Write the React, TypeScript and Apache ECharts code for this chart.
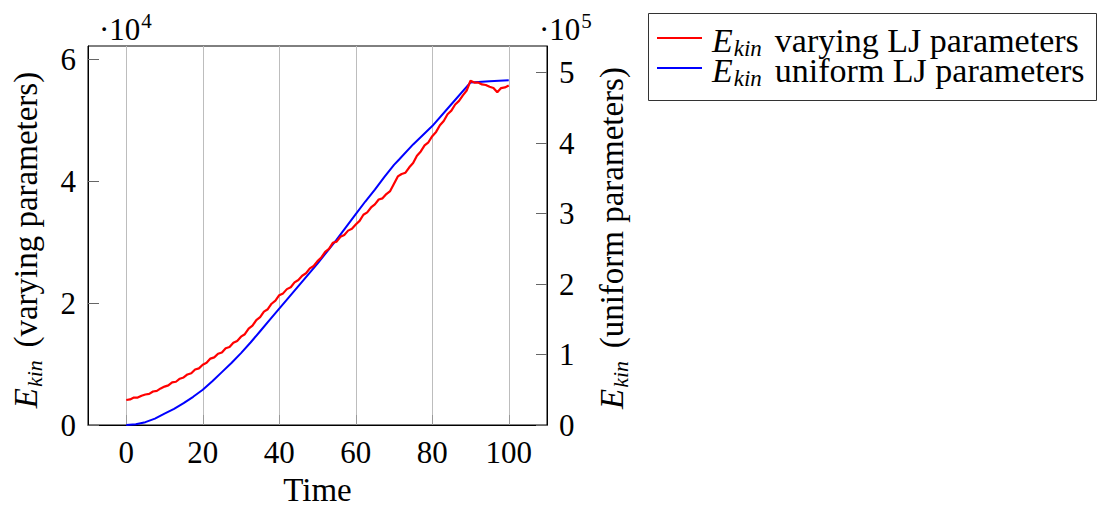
import React, { useEffect, useRef } from "react";
import * as echarts from "echarts";

// time axis (simulation time, 0..100)
const timeRed: number[] = Array.from({ length: 101 }, (_, i) => i);
// E_kin, varying LJ parameters (units of 1e4)
const redE4: number[] = [
  0.41, 0.42, 0.45, 0.45, 0.48, 0.5, 0.51, 0.55, 0.56, 0.6,
  0.63, 0.65, 0.7, 0.71, 0.76, 0.78, 0.83, 0.85, 0.91, 0.93,
  0.99, 1.02, 1.09, 1.11, 1.17, 1.19, 1.26, 1.28, 1.35, 1.38,
  1.45, 1.49, 1.58, 1.63, 1.72, 1.77, 1.86, 1.9, 1.99, 2.04,
  2.13, 2.16, 2.23, 2.26, 2.34, 2.38, 2.45, 2.49, 2.57, 2.61,
  2.69, 2.75, 2.84, 2.89, 2.99, 3.01, 3.09, 3.12, 3.19, 3.22,
  3.29, 3.35, 3.45, 3.49, 3.57, 3.62, 3.7, 3.72, 3.79, 3.84,
  3.96, 4.08, 4.12, 4.14, 4.23, 4.3, 4.42, 4.49, 4.59, 4.64,
  4.74, 4.81, 4.92, 4.99, 5.1, 5.16, 5.26, 5.32, 5.41, 5.49,
  5.65, 5.62, 5.62, 5.59, 5.58, 5.55, 5.53, 5.46, 5.53, 5.54,
  5.57,
];
// E_kin, uniform LJ parameters (units of 1e5)
const timeBlue: number[] = [
  0, 2.5, 5, 7.5, 10, 12.5, 15, 17.5, 20, 22.5, 25, 27.5, 30, 32.5, 35, 37.5,
  40, 42.5, 45, 47.5, 50, 52.5, 55, 57.5, 60, 62.5, 65, 67.5, 70, 71.4, 75, 80,
  85, 90, 95, 100,
];
const blueE5: number[] = [
  0, 0.01, 0.04, 0.09, 0.16, 0.23, 0.31, 0.4, 0.5, 0.62, 0.75, 0.88, 1.02,
  1.17, 1.33, 1.49, 1.65, 1.81, 1.97, 2.13, 2.29, 2.46, 2.63, 2.81, 2.99, 3.17,
  3.34, 3.52, 3.69, 3.77, 3.98, 4.24, 4.55, 4.86, 4.875, 4.89,
];
const xTicks: number[] = [0, 20, 40, 60, 80, 100];
const seriesNames: string[] = ["varying LJ parameters", "uniform LJ parameters"];
const seriesColors: string[] = ["#ff0000", "#0000ff"];
const axisNames: string[] = ["(varying parameters)", "(uniform parameters)"];

const FONT = "Liberation Serif";
const FS = 31;
const LFS = 33;

type Part = { text: string; size: number; italic?: boolean; dy?: number; gap?: number; lh?: number };

let measureCtx: CanvasRenderingContext2D | null = null;
function measure(p: Part): number {
  if (!measureCtx) measureCtx = document.createElement("canvas").getContext("2d");
  measureCtx!.font = `${p.italic ? "italic " : ""}${p.size}px "${FONT}"`;
  return measureCtx!.measureText(p.text).width;
}
function layoutParts(parts: Part[], x0: number, y0: number): any[] {
  let x = x0;
  return parts.map((p) => {
    x += p.gap || 0;
    const el = {
      type: "text",
      x,
      y: y0 + (p.dy || 0),
      style: {
        text: p.text,
        fontFamily: FONT,
        fontSize: p.size,
        fontStyle: p.italic ? "italic" : "normal",
        lineHeight: p.lh || p.size,
        fill: "#000",
        align: "left",
        verticalAlign: "middle",
      },
    };
    x += measure(p);
    return el;
  });
}
function totalWidth(parts: Part[]): number {
  return parts.reduce((s, p) => s + (p.gap || 0) + measure(p), 0);
}
function ekinParts(rest: string, size: number, compact: boolean): Part[] {
  return [
    { text: "E", size, italic: true, lh: compact ? 26 : undefined },
    {
      text: "kin",
      size: Math.round(size * 0.68),
      italic: true,
      dy: 8,
      gap: 1,
      lh: compact ? 12 : undefined,
    },
    { text: rest, size, gap: size * 0.38, lh: compact ? 26 : undefined },
  ];
}

export default function App() {
  const ref = useRef<HTMLDivElement>(null);
  useEffect(() => {
    document.body.style.margin = "0";
    const chart = echarts.init(ref.current!, null, { renderer: "svg" });

    const legendItems: any[] = [];
    seriesNames.forEach((n, i) => {
      const y = 38 + i * 30;
      legendItems.push({
        type: "line",
        shape: { x1: 657, y1: y, x2: 702, y2: y },
        style: { stroke: seriesColors[i], lineWidth: 2 },
      });
      legendItems.push(...layoutParts(ekinParts(n, 34, true), 712, y + 2));
    });

    const axisNameGroup = (label: string, cx: number, cy: number) => {
      const parts = ekinParts(label, LFS, false);
      const w = totalWidth(parts);
      return {
        type: "group",
        x: cx,
        y: cy,
        rotation: Math.PI / 2,
        children: layoutParts(parts, -w / 2, 0),
      };
    };

    const powText = (p: string, left: number) => ({
      type: "group",
      left,
      top: 10,
      children: [
        {
          type: "text",
          x: 0,
          y: 12,
          style: { text: "·10", fontFamily: FONT, fontSize: FS, fill: "#000", verticalAlign: "middle" },
        },
        {
          type: "text",
          x: measure({ text: "·10", size: FS }) + 1,
          y: 3,
          style: { text: p, fontFamily: FONT, fontSize: 21, fill: "#000", verticalAlign: "middle" },
        },
      ],
    });

    chart.setOption({
      animation: false,
      textStyle: { fontFamily: FONT },
      grid: {
        left: 88,
        right: 552,
        top: 46,
        bottom: 81,
        outerBoundsMode: "none",
        containLabel: false,
        show: true,
        borderColor: "#000",
        borderWidth: 1,
        backgroundColor: "transparent",
      },
      xAxis: {
        type: "value",
        min: -10,
        max: 110,
        name: "Time",
        nameLocation: "middle",
        nameGap: 49,
        nameTextStyle: { fontFamily: FONT, fontSize: LFS, color: "#000", lineHeight: 31 },
        axisLine: { show: true, onZero: false, lineStyle: { color: "#000", width: 1 } },
        axisTick: {
          show: true,
          inside: true,
          length: 10,
          customValues: xTicks,
          lineStyle: { color: "#999" },
        },
        axisLabel: {
          customValues: xTicks,
          fontFamily: FONT,
          fontSize: FS,
          color: "#000",
          margin: 12,
        },
        splitLine: { show: true, lineStyle: { color: "#bdbdbd", width: 1 } },
      },
      yAxis: [
        {
          type: "value",
          min: 0,
          max: 6.22,
          interval: 2,
          position: "left",
          axisLine: { show: true, onZero: false, lineStyle: { color: "#000" } },
          axisTick: { show: true, inside: true, length: 11, lineStyle: { color: "#666" } },
          axisLabel: {
            showMaxLabel: false,
            fontFamily: FONT,
            fontSize: FS,
            color: "#000",
            margin: 12,
          },
          splitLine: { show: false },
        },
        {
          type: "value",
          min: 0,
          max: 5.376,
          interval: 1,
          position: "right",
          axisLine: { show: true, onZero: false, lineStyle: { color: "#000" } },
          axisTick: { show: true, inside: true, length: 11, lineStyle: { color: "#666" } },
          axisLabel: {
            showMaxLabel: false,
            fontFamily: FONT,
            fontSize: FS,
            color: "#000",
            margin: 12,
          },
          splitLine: { show: false },
        },
      ],
      series: [
        {
          name: seriesNames[0],
          type: "line",
          yAxisIndex: 0,
          showSymbol: false,
          symbol: "none",
          lineStyle: { color: seriesColors[0], width: 2.2 },
          itemStyle: { color: seriesColors[0] },
          data: timeRed.map((t, i) => [t, redE4[i]]),
          z: 3,
        },
        {
          name: seriesNames[1],
          type: "line",
          yAxisIndex: 1,
          showSymbol: false,
          symbol: "none",
          lineStyle: { color: seriesColors[1], width: 2 },
          itemStyle: { color: seriesColors[1] },
          data: timeBlue.map((t, i) => [t, blueE5[i]]),
          z: 2,
        },
      ],
      graphic: [
        powText("4", 99),
        powText("5", 539),
        axisNameGroup(axisNames[0], 26, 240),
        axisNameGroup(axisNames[1], 612, 238),
        {
          type: "rect",
          shape: { x: 648.5, y: 13.5, width: 448, height: 87 },
          style: { fill: "#fff", stroke: "#333", lineWidth: 1 },
        },
        ...legendItems,
      ],
    });
    return () => chart.dispose();
  }, []);
  return <div ref={ref} style={{ width: 1099, height: 506 }} />;
}
